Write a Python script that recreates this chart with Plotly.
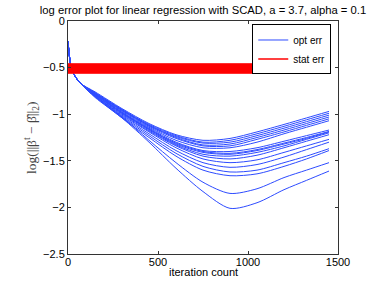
import plotly.graph_objects as go

# iteration grid at which curve values were read
iters = [0, 8, 18, 35, 70, 150, 300, 450, 600, 750, 900, 1050, 1200, 1325, 1450]

# common head (x = 0..70)
head = [-0.22, -0.38, -0.50, -0.58, -0.67]

# tails of each optimisation-error curve at x = 150..1450
opt_tails = [
    [-0.76, -0.94, -1.10, -1.22, -1.28, -1.26, -1.19, -1.11, -1.04, -0.97],
    [-0.77, -0.95, -1.11, -1.23, -1.30, -1.28, -1.21, -1.13, -1.06, -0.99],
    [-0.77, -0.95, -1.12, -1.24, -1.31, -1.30, -1.23, -1.15, -1.08, -1.01],
    [-0.77, -0.96, -1.12, -1.25, -1.33, -1.32, -1.25, -1.17, -1.10, -1.03],
    [-0.78, -0.96, -1.13, -1.26, -1.34, -1.34, -1.27, -1.19, -1.12, -1.05],
    [-0.78, -0.97, -1.14, -1.28, -1.36, -1.36, -1.30, -1.21, -1.14, -1.07],
    [-0.78, -0.98, -1.15, -1.30, -1.39, -1.40, -1.36, -1.29, -1.23, -1.17],
    [-0.79, -0.98, -1.16, -1.31, -1.40, -1.42, -1.38, -1.31, -1.25, -1.185],
    [-0.79, -0.99, -1.16, -1.32, -1.41, -1.43, -1.39, -1.32, -1.26, -1.19],
    [-0.79, -0.99, -1.17, -1.33, -1.43, -1.45, -1.41, -1.34, -1.27, -1.20],
    [-0.80, -1.00, -1.18, -1.34, -1.45, -1.48, -1.44, -1.36, -1.29, -1.22],
    [-0.80, -1.01, -1.19, -1.36, -1.48, -1.52, -1.49, -1.41, -1.34, -1.27],
    [-0.80, -1.02, -1.21, -1.39, -1.52, -1.57, -1.54, -1.46, -1.38, -1.30],
    [-0.81, -1.03, -1.23, -1.42, -1.56, -1.62, -1.60, -1.52, -1.45, -1.37],
    [-0.81, -1.04, -1.25, -1.45, -1.60, -1.66, -1.64, -1.56, -1.48, -1.39],
    [-0.81, -1.03, -1.28, -1.52, -1.73, -1.85, -1.80, -1.68, -1.60, -1.52],
    [-0.82, -1.04, -1.30, -1.58, -1.83, -2.01, -1.95, -1.81, -1.71, -1.61],
]

# statistical error levels (horizontal lines)
stat_levels = [-0.46, -0.465, -0.47, -0.478, -0.485, -0.49, -0.497, -0.505, -0.51,
               -0.517, -0.523, -0.53, -0.535, -0.542, -0.548, -0.553, -0.558]
stat_x = [0, 1450]

x_ticks = [0, 500, 1000, 1500]
y_ticks = [0, -0.5, -1, -1.5, -2, -2.5]
y_tick_text = ["0", "\u22120.5", "\u22121", "\u22121.5", "\u22122", "\u22122.5"]

fig = go.Figure()

for i, tail in enumerate(opt_tails):
    fig.add_trace(go.Scatter(
        x=iters, y=head + tail, mode="lines",
        line=dict(color="rgb(45,75,255)", width=1, shape="spline", smoothing=0.8),
        name="opt err", legendgroup="opt", showlegend=(i == 0)))

for i, lv in enumerate(stat_levels):
    fig.add_trace(go.Scatter(
        x=stat_x, y=[lv, lv], mode="lines",
        line=dict(color="rgb(255,0,0)", width=1.4),
        name="stat err", legendgroup="stat", showlegend=(i == 0)))

axis_common = dict(
    showgrid=False, zeroline=False, showline=True, linecolor="#333333", linewidth=1,
    mirror="ticks", ticks="inside", ticklen=3, tickcolor="#333333", automargin=False,
    tickfont=dict(family="Liberation Sans, Arial, sans-serif", size=11, color="black"),
)

fig.update_layout(
    width=374, height=282,
    margin=dict(l=68, r=36, t=21, b=28, autoexpand=False),
    paper_bgcolor="white", plot_bgcolor="white",
    font=dict(family="Liberation Sans, Arial, sans-serif", size=11, color="black"),
    title=dict(text="log error plot for linear regression with SCAD, a = 3.7, alpha = 0.1",
               x=0.5, xref="paper", xanchor="center", y=0.98, yref="container",
               yanchor="top", font=dict(size=11.25, color="black")),
    xaxis=dict(range=[0, 1500], tickvals=x_ticks, ticklabelstandoff=-2, **axis_common),
    yaxis=dict(range=[-2.5, 0], tickvals=y_ticks, ticktext=y_tick_text, **axis_common),
    legend=dict(x=0.975, xanchor="right", y=0.985, yanchor="top",
                bgcolor="white", bordercolor="black", borderwidth=1,
                font=dict(size=10, color="black"), itemwidth=30,
                tracegroupgap=0),
    showlegend=True,
    annotations=[
        dict(text="log(||β<sup>t</sup> − β\u0302||<sub>2</sub>)",
             xref="paper", yref="paper", x=-0.135, y=0.5, xanchor="center", yanchor="middle",
             textangle=-90, showarrow=False,
             font=dict(family="Liberation Serif, Times New Roman, serif", size=13.5, color="#444444")),
        dict(text="iteration count", xref="paper", yref="paper", x=0.5, y=-0.045,
             xanchor="center", yanchor="top", showarrow=False,
             font=dict(family="Liberation Sans, Arial, sans-serif", size=11, color="black")),
    ],
)

fig.write_html("out.html", config={"displayModeBar": False},
               post_script="document.body.style.margin='0px';")
